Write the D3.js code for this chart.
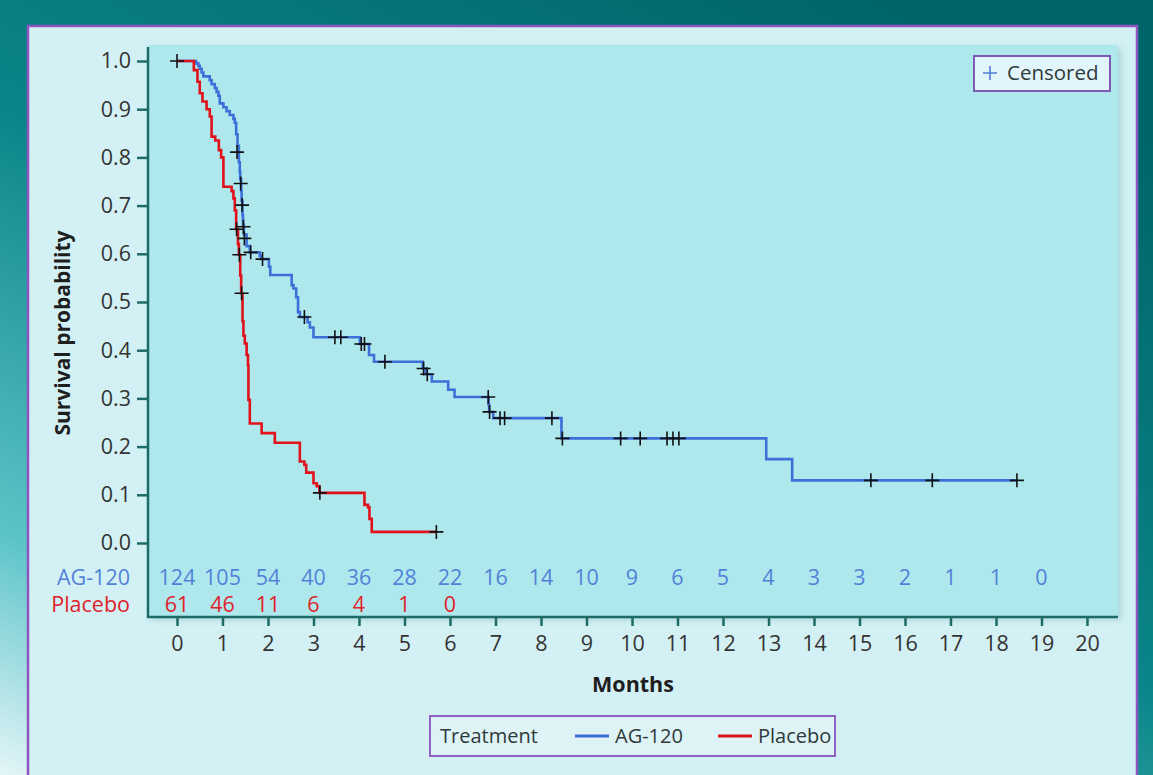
<!DOCTYPE html>
<html>
<head>
<meta charset="utf-8">
<script src="https://cdn.jsdelivr.net/npm/d3@7"></script>
<style>
  html, body { margin: 0; padding: 0; background: #ffffff; }
  svg { display: block; }
  text { font-family: "Open Sans", "Noto Sans", sans-serif; }
</style>
</head>
<body>
<svg id="chart" width="1153" height="775"></svg>
<script>
// Kaplan–Meier step data (months, survival probability)
const agTime = [0, 0.42, 0.47, 0.5, 0.54, 0.58, 0.72, 0.76, 0.83, 0.87, 0.91, 0.94, 1.02, 1.09, 1.16, 1.24, 1.27, 1.3, 1.33,
  1.36, 1.38, 1.39, 1.41, 1.42, 1.44, 1.45, 1.47, 1.53, 1.6, 1.82, 1.85, 2.02, 2.05, 2.52, 2.56, 2.62, 2.66, 2.7, 2.87, 2.92,
  3.0, 4.02, 4.22, 4.33, 5.4, 5.47, 5.6, 5.96, 6.1, 6.85, 6.86, 6.95, 8.45, 12.95, 13.52, 18.46];
const agSurv = [1.0, 0.995, 0.99, 0.984, 0.976, 0.968, 0.96, 0.952, 0.944, 0.936, 0.928, 0.912, 0.904, 0.896, 0.888, 0.88, 0.872, 0.848, 0.824,
  0.79, 0.77, 0.755, 0.73, 0.71, 0.68, 0.66, 0.64, 0.616, 0.603, 0.595, 0.589, 0.573, 0.556, 0.535, 0.528, 0.51, 0.479, 0.469, 0.458, 0.447,
  0.427, 0.413, 0.39, 0.376, 0.362, 0.35, 0.335, 0.318, 0.303, 0.287, 0.272, 0.259, 0.217, 0.174, 0.13, 0.13];

const pbTime = [0, 0.37, 0.45, 0.5, 0.56, 0.65, 0.72, 0.76, 0.84, 0.92, 0.97, 1.02, 1.2, 1.24, 1.27, 1.3, 1.34, 1.36, 1.39, 1.41,
  1.44, 1.46, 1.49, 1.53, 1.56, 1.57, 1.6, 1.86, 2.15, 2.7, 2.8, 2.84, 3.0, 3.07, 3.13, 4.12, 4.2, 4.23, 4.28, 5.7];
const pbSurv = [1.0, 0.981, 0.957, 0.933, 0.916, 0.9, 0.885, 0.843, 0.835, 0.815, 0.8, 0.739, 0.73, 0.715, 0.69, 0.651, 0.62, 0.598, 0.555, 0.518,
  0.46, 0.43, 0.414, 0.39, 0.369, 0.297, 0.248, 0.228, 0.208, 0.169, 0.162, 0.146, 0.124, 0.118, 0.104, 0.079, 0.074, 0.05, 0.023, 0.023];

// Censored observations
const agCensorTime = [0, 1.32, 1.4, 1.43, 1.46, 1.48, 1.62, 1.88, 2.8, 3.47, 3.6, 4.05, 4.12, 4.57, 5.42, 5.5, 6.84, 6.87, 7.1, 7.2, 8.24,
  8.47, 9.75, 10.18, 10.77, 10.9, 11.03, 15.25, 16.6, 18.46];
const agCensorSurv = [1.0, 0.811, 0.746, 0.701, 0.656, 0.632, 0.603, 0.589, 0.469, 0.427, 0.427, 0.413, 0.413, 0.376, 0.362, 0.35, 0.303, 0.272, 0.259, 0.259, 0.259,
  0.217, 0.217, 0.217, 0.217, 0.217, 0.217, 0.13, 0.13, 0.13];
const pbCensorTime = [1.31, 1.37, 1.42, 3.14, 5.7];
const pbCensorSurv = [0.651, 0.598, 0.518, 0.104, 0.023];

// Number at risk
const riskMonths = [0, 1, 2, 3, 4, 5, 6, 7, 8, 9, 10, 11, 12, 13, 14, 15, 16, 17, 18, 19];
const agRisk = [124, 105, 54, 40, 36, 28, 22, 16, 14, 10, 9, 6, 5, 4, 3, 3, 2, 1, 1, 0];
const pbRisk = [61, 46, 11, 6, 4, 1, 0];

const yTicks = [0, 0.1, 0.2, 0.3, 0.4, 0.5, 0.6, 0.7, 0.8, 0.9, 1.0];
const xTicks = d3.range(0, 21);

const colors = { "AG-120": "#3d6fd8", "Placebo": "#e0121c" };
const riskColors = { "AG-120": "#5282d8", "Placebo": "#e0222a" };

const svg = d3.select("#chart");
const W = 1153, H = 775;
const tickFont = 21.5;

// Backdrop gradient
const defs = svg.append("defs");
const bg = defs.append("linearGradient").attr("id", "bg")
  .attr("x1", "0.75").attr("y1", "0").attr("x2", "0").attr("y2", "1");
bg.append("stop").attr("offset", "0").attr("stop-color", "#00656a");
bg.append("stop").attr("offset", "0.45").attr("stop-color", "#0a8589");
bg.append("stop").attr("offset", "0.8").attr("stop-color", "#5cc4c9");
bg.append("stop").attr("offset", "1").attr("stop-color", "#e4f6f8");

const shadow = defs.append("filter").attr("id", "shadow")
  .attr("x", "-5%").attr("y", "-5%").attr("width", "110%").attr("height", "115%");
shadow.append("feDropShadow").attr("dx", 3).attr("dy", 3).attr("stdDeviation", 3)
  .attr("flood-color", "#4a8f97").attr("flood-opacity", 0.3);

svg.append("rect").attr("width", W).attr("height", H).attr("fill", "url(#bg)");

// Card
svg.append("rect").attr("x", 28).attr("y", 26).attr("width", 1109).attr("height", 760)
  .attr("fill", "#d3f1f4").attr("stroke", "#8e55c0").attr("stroke-width", 2.5);

// Plot panel
const panel = { left: 148, right: 1118, top: 45, bottom: 617 };
svg.append("rect").attr("x", panel.left).attr("y", panel.top)
  .attr("width", panel.right - panel.left).attr("height", panel.bottom - panel.top)
  .attr("fill", "#aee8ed").attr("filter", "url(#shadow)");

const x = d3.scaleLinear().domain([0, 20]).range([177, 1087]);
const y = d3.scaleLinear().domain([0, 1]).range([543, 61]);

const axisColor = "#1d6b66";
const tickText = "#333333";

// Y axis
const yAxis = svg.append("g").attr("transform", `translate(${panel.left},0)`)
  .call(d3.axisLeft(y).tickValues(yTicks).tickSize(11).tickPadding(6).tickFormat(d3.format(".1f")));
yAxis.select(".domain").remove();
yAxis.selectAll(".tick line").attr("stroke", axisColor).attr("stroke-width", 2.5);
yAxis.selectAll(".tick text").attr("fill", tickText).attr("font-size", tickFont)
  .attr("font-family", "Open Sans");
svg.append("line").attr("x1", panel.left).attr("x2", panel.left)
  .attr("y1", 47).attr("y2", panel.bottom + 1)
  .attr("stroke", axisColor).attr("stroke-width", 2.5);

// X axis
const xAxis = svg.append("g").attr("transform", `translate(0,${panel.bottom})`)
  .call(d3.axisBottom(x).tickValues(xTicks).tickSize(9).tickPadding(10).tickFormat(d3.format("d")));
xAxis.select(".domain").remove();
xAxis.selectAll(".tick line").attr("stroke", axisColor).attr("stroke-width", 2.5);
xAxis.selectAll(".tick text").attr("fill", tickText).attr("font-size", tickFont)
  .attr("font-family", "Open Sans");
svg.append("line").attr("x1", panel.left - 1).attr("x2", panel.right)
  .attr("y1", panel.bottom).attr("y2", panel.bottom)
  .attr("stroke", axisColor).attr("stroke-width", 2.5);

// Axis titles
svg.append("text").attr("transform", `translate(70,333) rotate(-90)`)
  .attr("text-anchor", "middle").attr("font-size", 21).attr("font-weight", 700)
  .attr("fill", "#1e1e1e").text("Survival probability");
svg.append("text").attr("x", 633).attr("y", 692).attr("text-anchor", "middle")
  .attr("font-size", 21.5).attr("font-weight", 700).attr("fill", "#1e1e1e").text("Months");

// Survival curves
const line = d3.line().x(d => x(d[0])).y(d => y(d[1])).curve(d3.curveStepAfter);
const curves = [
  { name: "AG-120", pts: d3.zip(agTime, agSurv) },
  { name: "Placebo", pts: d3.zip(pbTime, pbSurv) }
];
svg.append("g").selectAll("path").data(curves).join("path")
  .attr("d", d => line(d.pts)).attr("fill", "none")
  .attr("stroke", d => colors[d.name]).attr("stroke-width", 2.6)
  .attr("stroke-linejoin", "miter");

// Censor marks
const censors = d3.zip(agCensorTime, agCensorSurv).concat(d3.zip(pbCensorTime, pbCensorSurv));
const cs = 7;
svg.append("g").selectAll("path").data(censors).join("path")
  .attr("d", d => `M${x(d[0]) - cs},${y(d[1])}H${x(d[0]) + cs}M${x(d[0])},${y(d[1]) - cs}V${y(d[1]) + cs}`)
  .attr("stroke", "#111").attr("stroke-width", 1.6).attr("fill", "none");

// Number-at-risk table
const riskRows = [
  { name: "AG-120", vals: agRisk, y: 585 },
  { name: "Placebo", vals: pbRisk, y: 612 }
];
riskRows.forEach(r => {
  svg.append("text").attr("x", 130).attr("y", r.y).attr("text-anchor", "end")
    .attr("font-size", tickFont).attr("fill", riskColors[r.name]).text(r.name);
  svg.append("g").selectAll("text").data(r.vals).join("text")
    .attr("x", (d, i) => x(riskMonths[i])).attr("y", r.y).attr("text-anchor", "middle")
    .attr("font-size", tickFont).attr("fill", riskColors[r.name]).text(d => d);
});

// Censored key
const ck = svg.append("g");
ck.append("rect").attr("x", 974).attr("y", 56).attr("width", 136).attr("height", 35)
  .attr("fill", "#e2f5fa").attr("stroke", "#7d5bb5").attr("stroke-width", 2);
ck.append("path").attr("d", "M983,73H997M990,66V80").attr("stroke", "#4f7fd6").attr("stroke-width", 1.6);
ck.append("text").attr("x", 1007).attr("y", 80).attr("font-size", 20.5).attr("fill", "#2f3a3a").text("Censored");

// Treatment legend
const lg = svg.append("g");
lg.append("rect").attr("x", 430).attr("y", 716).attr("width", 405).attr("height", 40)
  .attr("fill", "#ddf3f6").attr("stroke", "#8e63c4").attr("stroke-width", 2);
lg.append("text").attr("x", 440).attr("y", 743).attr("font-size", 20).attr("fill", "#2f3a3a").text("Treatment");
const legendItems = [{ name: "AG-120", x0: 575 }, { name: "Placebo", x0: 718 }];
legendItems.forEach(it => {
  lg.append("line").attr("x1", it.x0).attr("x2", it.x0 + 34).attr("y1", 736).attr("y2", 736)
    .attr("stroke", colors[it.name]).attr("stroke-width", 3);
  lg.append("text").attr("x", it.x0 + 40).attr("y", 743).attr("font-size", 20)
    .attr("fill", "#2f3a3a").text(it.name);
});
</script>
</body>
</html>
